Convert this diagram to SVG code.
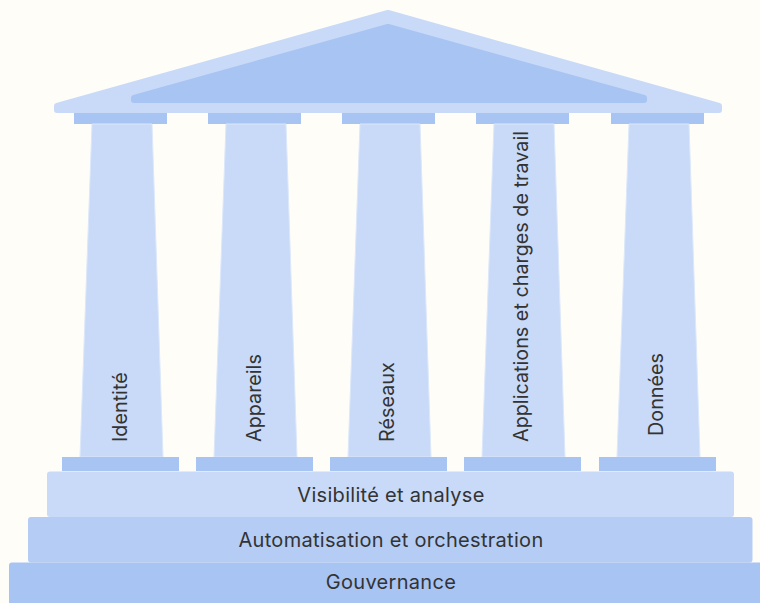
<svg xmlns="http://www.w3.org/2000/svg" width="760" height="603" viewBox="0 0 760 603">
<style>
.bg{fill:#FEFDF8}
.light{fill:#C8DAF7}
.mid{fill:#B5CDF5}
.dark{fill:#A8C4F3}
.shaft{fill:#C8DAF7;stroke:#DCE7FA;stroke-width:1}
.lbl{font-family:Inter,"Noto Sans","Liberation Sans",sans-serif;font-size:20px;letter-spacing:0.3px;fill:#333333}
.vl{font-family:Inter,"Noto Sans","Liberation Sans",sans-serif;font-size:19.8px;fill:#333333}
</style>
<rect class="bg" x="0" y="0" width="760" height="603"/>
<g id="roof">
<polygon class="light" points="388,13 719,106 719,110 57,110 57,106" stroke="#C8DAF7" stroke-width="6" stroke-linejoin="round"/>
<polygon class="dark" points="388,27 644,98 644,100 134,100 134,98" stroke="#A8C4F3" stroke-width="6" stroke-linejoin="round"/>
</g>
<g id="col-identite">
<rect class="dark" x="74" y="113" width="93" height="11"/>
<polygon class="shaft" points="92,124 152,124 163,457 80,457"/>
<rect class="dark" x="62" y="457" width="117" height="14"/>
<text class="vl" transform="translate(127,442) rotate(-90)">Identité</text>
</g>
<g id="col-appareils">
<rect class="dark" x="208" y="113" width="93" height="11"/>
<polygon class="shaft" points="226,124 286,124 297,457 214,457"/>
<rect class="dark" x="196" y="457" width="117" height="14"/>
<text class="vl" transform="translate(261,442) rotate(-90)">Appareils</text>
</g>
<g id="col-reseaux">
<rect class="dark" x="342" y="113" width="93" height="11"/>
<polygon class="shaft" points="360,124 420,124 431,457 348,457"/>
<rect class="dark" x="330" y="457" width="117" height="14"/>
<text class="vl" transform="translate(394,442) rotate(-90)">Réseaux</text>
</g>
<g id="col-applications">
<rect class="dark" x="476" y="113" width="93" height="11"/>
<polygon class="shaft" points="494,124 554,124 565,457 482,457"/>
<rect class="dark" x="464" y="457" width="117" height="14"/>
<text class="vl" transform="translate(528,442) rotate(-90)">Applications et charges de travail</text>
</g>
<g id="col-donnees">
<rect class="dark" x="611" y="113" width="93" height="11"/>
<polygon class="shaft" points="629,124 689,124 700,457 617,457"/>
<rect class="dark" x="599" y="457" width="117" height="14"/>
<text class="vl" transform="translate(663,436) rotate(-90)">Données</text>
</g>
<g id="visibilite">
<rect class="light" x="47" y="471.5" width="687" height="45.5" rx="3"/>
<text class="lbl" x="391" y="502" text-anchor="middle">Visibilité et analyse</text>
</g>
<g id="automatisation">
<rect class="mid" x="28" y="517" width="724.5" height="45.5" rx="3"/>
<text class="lbl" x="391" y="547" text-anchor="middle">Automatisation et orchestration</text>
</g>
<g id="gouvernance">
<rect class="dark" x="9" y="562.5" width="760" height="50" rx="3"/>
<text class="lbl" x="391" y="589" text-anchor="middle">Gouvernance</text>
</g>
<g id="connectors"/>
</svg>
